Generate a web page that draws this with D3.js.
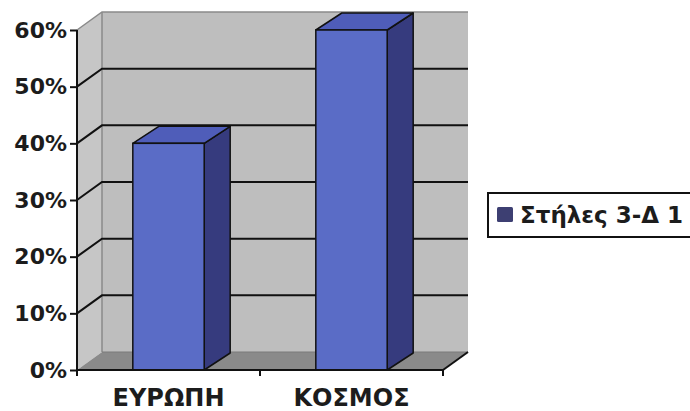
<!DOCTYPE html>
<html><head><meta charset="utf-8">
<script src="https://cdn.jsdelivr.net/npm/d3@7"></script>
<style>body{margin:0;background:#fff}svg{display:block}</style>
</head><body>
<script>
const categories = ["ΕΥΡΩΠΗ", "ΚΟΣΜΟΣ"];
const values = [0.40, 0.60];
const yTicks = [0, 0.1, 0.2, 0.3, 0.4, 0.5, 0.6];
const seriesName = "Στήλες 3-Δ 1";

const W = 690, H = 411;
const svg = d3.select("body").append("svg").attr("width", W).attr("height", H);
const font = "'DejaVu Sans', sans-serif";

const x0 = 77, x1 = 443, yBot = 370, yTop = 30;
const dx = 25, dy = 18;
const y = d3.scaleLinear().domain([0, 0.6]).range([yBot, yTop]);
const x = d3.scaleBand().domain(categories).range([x0, x1]).padding(0);
const barFrac = 0.39;

const g = svg.append("g");
g.append("rect").attr("x", x0 + dx).attr("y", yTop - dy).attr("width", x1 - x0).attr("height", yBot - yTop)
  .attr("fill", "#bebebe");
g.append("polygon").attr("points", [[x0, yTop], [x0 + dx, yTop - dy], [x0 + dx, yBot - dy], [x0, yBot]].join(" "))
  .attr("fill", "#c6c6c6");
g.append("polygon").attr("points", [[x0, yBot], [x1, yBot], [x1 + dx, yBot - dy], [x0 + dx, yBot - dy]].join(" "))
  .attr("fill", "#8a8a8a");
g.append("polyline").attr("points", [[x0, yTop], [x0 + dx, yTop - dy], [x1 + dx, yTop - dy]].join(" "))
  .attr("fill", "none").attr("stroke", "#8a8a8a").attr("stroke-width", 1.5);
g.append("line").attr("x1", x0 + dx).attr("x2", x0 + dx).attr("y1", yTop - dy).attr("y2", yBot - dy)
  .attr("stroke", "#8a8a8a").attr("stroke-width", 1.5);
g.append("line").attr("x1", x0 + dx).attr("x2", x1 + dx).attr("y1", yBot - dy).attr("y2", yBot - dy)
  .attr("stroke", "#7a7a7a").attr("stroke-width", 1);

yTicks.filter(t => t > 0 && t < 0.6).forEach(t => {
  g.append("polyline").attr("points", [[x0, y(t)], [x0 + dx, y(t) - dy], [x1 + dx, y(t) - dy]].join(" "))
    .attr("fill", "none").attr("stroke", "#111").attr("stroke-width", 2);
});

g.append("line").attr("x1", x1).attr("y1", yBot).attr("x2", x1 + dx).attr("y2", yBot - dy)
  .attr("stroke", "#111").attr("stroke-width", 2);

const bars = svg.append("g");
categories.forEach((c, i) => {
  const bw = x.bandwidth() * barFrac;
  const bx = x(c) + (x.bandwidth() - bw) / 2;
  const by = y(values[i]);
  const bd = 26, bdy = 17;
  bars.append("polygon").attr("points", [[bx + bw, by], [bx + bw + bd, by - bdy], [bx + bw + bd, yBot - bdy], [bx + bw, yBot]].join(" "))
    .attr("fill", "#363b7e").attr("stroke", "#111").attr("stroke-width", 1.5).attr("stroke-linejoin", "round");
  bars.append("polygon").attr("points", [[bx, by], [bx + bd, by - bdy], [bx + bw + bd, by - bdy], [bx + bw, by]].join(" "))
    .attr("fill", "#4f5db9").attr("stroke", "#111").attr("stroke-width", 1.5).attr("stroke-linejoin", "round");
  bars.append("rect").attr("x", bx).attr("y", by).attr("width", bw).attr("height", yBot - by)
    .attr("fill", "#5a6cc6").attr("stroke", "#111").attr("stroke-width", 1.5);
});

const yAxis = svg.append("g").attr("transform", `translate(${x0},0)`)
  .call(d3.axisLeft(y).tickValues(yTicks).tickFormat(d3.format(".0%")).tickSize(7).tickPadding(3));
yAxis.select(".domain").attr("stroke", "#111").attr("stroke-width", 2).attr("d", `M0,${yTop}V${yBot}`);
yAxis.selectAll(".tick line").attr("stroke", "#111").attr("stroke-width", 2);
yAxis.selectAll(".tick text").attr("font-family", font).attr("font-weight", "bold").attr("font-size", 22)
  .attr("fill", "#1c1c1c");

const xAxis = svg.append("g").attr("transform", `translate(0,${yBot})`)
  .call(d3.axisBottom(x).tickSize(0).tickPadding(19));
xAxis.select(".domain").attr("stroke", "#111").attr("stroke-width", 2).attr("d", `M${x0},0H${x1}`);
xAxis.selectAll(".tick text").attr("font-family", font).attr("font-weight", "bold").attr("font-size", 24)
  .attr("fill", "#1c1c1c");
const bounds = categories.map(c => x(c)).concat([x1]);
xAxis.selectAll(".bt").data(bounds).enter().append("line").attr("class", "bt")
  .attr("x1", d => d).attr("x2", d => d).attr("y1", 0).attr("y2", 6)
  .attr("stroke", "#111").attr("stroke-width", 2);

const lg = svg.append("g").attr("transform", "translate(488,193)");
lg.append("rect").attr("x", 0).attr("y", 0).attr("width", 240).attr("height", 44)
  .attr("fill", "#fff").attr("stroke", "#111").attr("stroke-width", 2);
lg.append("rect").attr("x", 9).attr("y", 14).attr("width", 16).attr("height", 15).attr("fill", "#3d3f72").attr("rx", 1.5);
lg.append("text").attr("x", 32).attr("y", 30).text(seriesName)
  .attr("font-family", font).attr("font-weight", "bold").attr("font-size", 23).attr("fill", "#1c1c1c");
</script>
</body></html>
